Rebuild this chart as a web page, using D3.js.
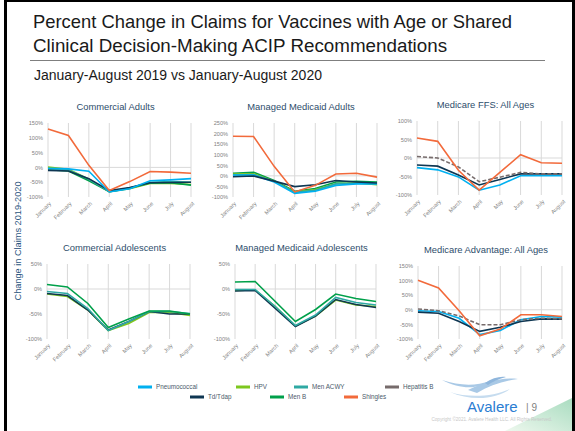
<!DOCTYPE html>
<html>
<head>
<meta charset="utf-8">
<script src="https://cdn.jsdelivr.net/npm/d3@7"></script>
<style>
  body { margin: 0; background: #fff; }
  svg { display: block; font-family: "Liberation Sans", Arial, sans-serif; }
</style>
</head>
<body>
<script>
// ---- data ----
const months = ['January', 'February', 'March', 'April', 'May', 'June', 'July', 'August'];
const seriesNames = ['Pneumococcal', 'Td/Tdap', 'HPV', 'Men B', 'Men ACWY', 'Shingles', 'Hepatitis B'];
const seriesColors = ['#00b0f0', '#0e3652', '#7dc71e', '#00a04a', '#2fa9a3', '#f26a3b', '#766b6b'];

const commercialAdults = [
  ['HPV',          [1, -6, -40, -82, -72, -54, -54, -58]],
  ['Men B',        [-8, -12, -45, -82, -70, -53, -52, -60]],
  ['Men ACWY',     [-6, -9, -40, -82, -70, -50, -48, -50]],
  ['Td/Tdap',      [-10, -12, -38, -78, -68, -52, -51, -50]],
  ['Pneumococcal', [-3, -5, -13, -83, -72, -45, -42, -38]],
  ['Shingles',     [130, 108, 7, -78, -48, -14, -16, -20]]
];
const medicaidAdults = [
  ['Men B',        [12, 17, -22, -73, -60, -29, -26, -29]],
  ['HPV',          [9, 10, -25, -76, -65, -37, -34, -42]],
  ['Men ACWY',     [4, 6, -25, -78, -68, -38, -35, -37]],
  ['Pneumococcal', [4, 4, -29, -83, -73, -45, -38, -38]],
  ['Td/Tdap',      [-4, -1, -25, -51, -42, -22, -29, -34]],
  ['Shingles',     [187, 186, 45, -76, -45, 9, 12, -6]]
];
const medicareFFS = [
  ['Pneumococcal', [-26, -32, -51, -87, -73, -48, -48, -48]],
  ['Td/Tdap',      [-19, -22, -46, -73, -58, -43, -43, -43]],
  ['Hepatitis B',  [4, 0, -24, -64, -52, -39, -43, -43]],
  ['Shingles',     [54, 45, -33, -87, -39, 9, -13, -14]]
];
const commercialAdolescents = [
  ['HPV',          [-10, -15, -42, -83, -69, -47, -47, -53]],
  ['Td/Tdap',      [-9, -13, -42, -82, -65, -45, -50, -50]],
  ['Men ACWY',     [-5, -9, -39, -83, -65, -45, -45, -49]],
  ['Men B',        [9, 4, -29, -77, -60, -44, -44, -50]]
];
const medicaidAdolescents = [
  ['HPV',          [-3, -2, -35, -74, -54, -22, -32, -35]],
  ['Td/Tdap',      [-4, -3, -39, -75, -54, -21, -31, -37]],
  ['Men ACWY',     [-1, -1, -35, -73, -52, -17, -27, -32]],
  ['Men B',        [14, 15, -25, -65, -41, -10, -19, -25]]
];
const medicareAdvantage = [
  ['Pneumococcal', [-3, -6, -29, -85, -71, -34, -23, -25]],
  ['Td/Tdap',      [-8, -12, -40, -74, -60, -40, -31, -32]],
  ['Hepatitis B',  [3, -3, -21, -51, -51, -34, -29, -31]],
  ['Shingles',     [101, 75, -3, -89, -66, -17, -17, -23]]
];

const panelTitles = ['Commercial Adults', 'Managed Medicaid Adults', 'Medicare FFS: All Ages',
                     'Commercial Adolescents', 'Managed Medicaid Adolescents', 'Medicare Advantage: All Ages'];
const panelData = [commercialAdults, medicaidAdults, medicareFFS, commercialAdolescents, medicaidAdolescents, medicareAdvantage];
const panelMax = [150, 250, 100, 50, 50, 150];

// ---- layout ----
const width = 575, height = 431;
// [left (Jan), right (Aug), top, bottom] for each plot area
const panelBox = [
  [48, 191, 123, 197], [233, 377, 123, 197], [417, 562, 121, 195],
  [47, 190, 264, 339], [235, 376, 264, 339], [418, 562, 266, 339]
];

const color = d3.scaleOrdinal().domain(seriesNames).range(seriesColors);

const svg = d3.select('body').append('svg')
  .attr('width', width)
  .attr('height', height);

// slide frame
svg.append('rect').attr('x', 4).attr('y', 0).attr('width', 571).attr('height', 2).attr('fill', '#000');
svg.append('rect').attr('x', 4).attr('y', 0).attr('width', 3).attr('height', height).attr('fill', '#000');
svg.append('rect').attr('x', 572).attr('y', 0).attr('width', 3).attr('height', height).attr('fill', '#000');

// corner decoration
let grad = svg.append('defs').append('linearGradient').attr('id', 'corner')
  .attr('x1', 0).attr('y1', 1).attr('x2', 1).attr('y2', 0);
grad.append('stop').attr('offset', 0).attr('stop-color', '#eef8ee');
grad.append('stop').attr('offset', 1).attr('stop-color', '#a9dcc0');
svg.append('polygon').attr('points', '505,431 572,398 572,431').attr('fill', 'url(#corner)');

// titles
svg.append('text').attr('x', 33).attr('y', 28).attr('font-size', 18.4).attr('fill', '#1a1a1a')
  .text('Percent Change in Claims for Vaccines with Age or Shared');
svg.append('text').attr('x', 33).attr('y', 52).attr('font-size', 18.8).attr('fill', '#1a1a1a')
  .text('Clinical Decision-Making ACIP Recommendations');
svg.append('line').attr('x1', 30).attr('x2', 545).attr('y1', 60.5).attr('y2', 60.5)
  .attr('stroke', '#7f7f7f').attr('stroke-width', 1.2);
svg.append('text').attr('x', 34).attr('y', 80).attr('font-size', 14).attr('fill', '#1a1a1a')
  .text('January-August 2019 vs January-August 2020');

// y axis caption
svg.append('text')
  .attr('transform', 'translate(21,241) rotate(-90)')
  .attr('text-anchor', 'middle')
  .attr('font-size', 9.2)
  .attr('fill', '#2b5580')
  .text('Change in Claims 2019-2020');

// ---- panels ----
panelData.forEach((rows, p) => {
  let [x0, x1, y0, y1] = panelBox[p];
  let g = svg.append('g');

  let xScale = d3.scalePoint().domain(months).range([x0, x1]);
  let yScale = d3.scaleLinear().domain([-100, panelMax[p]]).range([y1, y0]);

  // vertical grid lines
  g.selectAll('.grid')
    .data(months)
    .enter()
    .append('line')
    .attr('x1', (d) => xScale(d)).attr('x2', (d) => xScale(d))
    .attr('y1', y0).attr('y2', y1)
    .attr('stroke', '#d9d9d9').attr('stroke-width', 1);

  // zero line
  g.append('line')
    .attr('x1', x0).attr('x2', x1)
    .attr('y1', yScale(0)).attr('y2', yScale(0))
    .attr('stroke', '#d9d9d9').attr('stroke-width', 1);

  // y axis
  let yAxis = d3.axisLeft(yScale)
    .tickValues(d3.range(-100, panelMax[p] + 1, 50))
    .tickSize(0)
    .tickPadding(5)
    .tickFormat((d) => d + '%');
  let ya = g.append('g').attr('transform', 'translate(' + x0 + ',0)').call(yAxis);
  ya.select('.domain').remove();
  ya.selectAll('text').attr('font-size', 5.6).attr('fill', '#7f7f7f').attr('font-family', null);

  // x axis
  let xAxis = d3.axisBottom(xScale).tickSize(0).tickPadding(0);
  let xa = g.append('g').attr('transform', 'translate(0,' + y1 + ')').call(xAxis);
  xa.select('.domain').remove();
  xa.selectAll('text')
    .attr('font-size', 5.6).attr('fill', '#7f7f7f').attr('font-family', null)
    .attr('text-anchor', 'end')
    .attr('dy', null).attr('y', 0)
    .attr('transform', 'translate(3,7) rotate(-45)');

  // panel title
  g.append('text')
    .attr('x', (x0 + x1) / 2 - 4)
    .attr('y', y0 - 13)
    .attr('text-anchor', 'middle')
    .attr('font-size', 9.4)
    .attr('fill', '#2d4d6b')
    .text(panelTitles[p]);

  // lines
  let line = d3.line()
    .x((d, i) => xScale(months[i]))
    .y((d) => yScale(d));
  g.selectAll('.series')
    .data(rows)
    .enter()
    .append('path')
    .attr('d', (d) => line(d[1]))
    .attr('fill', 'none')
    .attr('stroke', (d) => color(d[0]))
    .attr('stroke-width', 1.6)
    .attr('stroke-dasharray', (d) => d[0] === 'Hepatitis B' ? '4,2' : null);
});

// ---- legend ----
const legendRow1 = ['Pneumococcal', 'HPV', 'Men ACWY', 'Hepatitis B'];
const legendRow2 = ['Td/Tdap', 'Men B', 'Shingles'];
const legendX1 = [138, 236, 294, 385];
const legendX2 = [190, 270, 344];

let drawLegend = (names, xs, y) => {
  let items = svg.selectAll(null)
    .data(names)
    .enter()
    .append('g')
    .attr('transform', (d, i) => 'translate(' + xs[i] + ',' + y + ')');
  items.append('rect')
    .attr('x', 0).attr('y', -1.5)
    .attr('width', 14).attr('height', 3)
    .attr('fill', (d) => color(d));
  items.append('text')
    .attr('x', 18).attr('y', 2.2)
    .attr('font-size', 6.3)
    .attr('fill', '#4a5a6a')
    .text((d) => d);
};
drawLegend(legendRow1, legendX1, 387);
drawLegend(legendRow2, legendX2, 397);

// ---- logo / footer ----
let logo = svg.append('g').attr('fill', '#a9c9e6');
logo.append('path').attr('d', 'M442,380 C460,386 476,386 490,381 C479,389 461,390 442,380 Z');
logo.append('path').attr('d', 'M468,390 C485,382 501,377 518,379 C503,381 489,386 477,393 Z');
logo.append('path').attr('d', 'M450,392 C468,398 492,397 510,389 C495,400 470,401 450,392 Z').attr('fill', '#c6dcef');
logo.append('path').attr('d', 'M485,383 C492,378 500,376 506,377 C498,379 492,382 488,385 Z').attr('fill', '#8fb6dc');

svg.append('text').attr('x', 467).attr('y', 412).attr('font-size', 15).attr('fill', '#2a7dd2')
  .text('Avalere');
svg.append('text').attr('x', 526).attr('y', 411).attr('font-size', 10).attr('fill', '#7f7f7f')
  .text('| 9');
svg.append('text').attr('x', 552).attr('y', 421).attr('text-anchor', 'end')
  .attr('font-size', 4.6).attr('fill', '#c8c8c8')
  .text('Copyright \u00a92021. Avalere Health LLC. All Rights Reserved.');
</script>
</body>
</html>
